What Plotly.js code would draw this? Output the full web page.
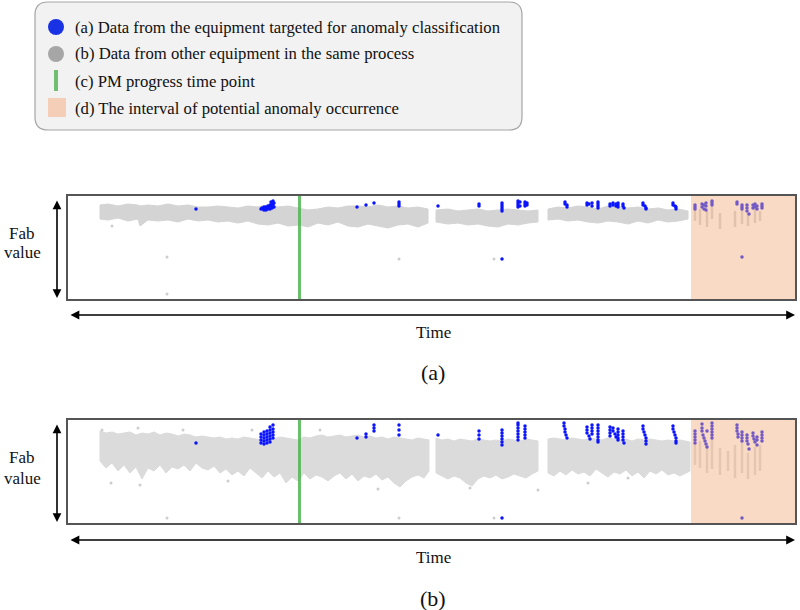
<!DOCTYPE html>
<html>
<head>
<meta charset="utf-8">
<script src="https://cdn.plot.ly/plotly-3.0.1.min.js"></script>
<style>html,body{margin:0;padding:0;background:#fff;}#chart{width:800px;height:610px;}</style>
</head>
<body>
<div id="chart"></div>
<script>
// ---------- DATA (time index 0..727, Fab value 0..103) ----------
const pmTime = 231.5;
const anomalyStart = 623;
const anomalyEnd = 727;

// Panel (a): band of other equipment (null = gap)
const aBandT  = [32,40,50,60,70,72,80,90,100,110,120,130,140,150,160,170,180,190,200,210,220,232,240,250,260,270,280,290,300,310,320,330,340,350,360,null,368,380,390,400,410,420,430,440,450,460,470,null,480,490,500,510,520,530,540,550,560,570,580,590,600,610,620];
const aBandHi = [94,95,93,95,94,93,94,93,95,93,94,92,92,93,92,91,93,92,94,92,93,91,89,90,92,91,93,93,92,94,92,93,91,92,90,null,89,90,88,89,90,88,89,90,89,88,89,null,90,92,91,93,92,90,93,92,91,92,90,91,89,90,88];
const aBandLo = [80,79,81,78,80,73,79,78,79,77,80,78,79,77,78,76,78,75,74,76,73,74,72,76,74,77,73,72,75,73,71,74,75,72,76,null,77,75,76,74,75,73,72,75,74,76,77,null,79,80,78,79,77,76,78,77,75,78,76,79,77,78,80];
const aStreakT  = [627,632,639,644,652,667,674,680,687,692];
const aStreakLo = [78,74,72,80,70,72,75,73,76,78];
const aStreakHi = [92,90,88,92,86,88,92,86,90,88];
const aGrayT = [44,99,99,331,426];
const aGrayY = [73,42,5,40,40];
const aBlueT = [193,194,195,196,197,198,199,200,201,202,203,204,205,206,196,198,200,202,204,206,203,205,
  128,289,298,306,331,331,331,370,411,411,434,434,434,434,434,450,450,450,450,452,452,457,457,457,459,459,434,
  497,497,499,499,519,519,521,524,524,530,530,530,530,542,542,545,545,548,548,550,550,550,555,555,556,
  575,575,577,578,578,605,605,607,608,608,
  627,627,627,634,634,636,636,638,638,638,644,644,644,669,669,674,674,674,679,679,679,681,685,685,687,687,689,689,694,694,694,674];
const aBlueY = [90,91,90,92,91,92,91,93,92,94,93,95,94,96,89,89,90,90,91,92,97,98,
  90,92,94,96,97,95,93,93,95,93,96,94,92,90,88,98,96,94,92,97,93,97,95,93,96,94,40,
  97,95,94,92,96,94,95,96,93,97,95,93,91,95,93,96,94,95,93,96,94,92,95,93,91,
  96,94,93,91,90,96,94,93,92,90,
  94,92,90,95,92,94,90,96,93,89,98,96,94,97,95,94,92,90,94,91,88,85,94,91,95,92,93,90,95,93,91,42];

// Panel (b)
const bBandT  = [32,38,44,50,56,62,68,74,80,86,92,98,104,110,116,122,128,134,140,146,152,158,164,170,176,182,188,194,200,206,212,218,224,230,236,242,248,254,260,266,272,278,284,290,296,302,308,314,320,326,332,338,344,350,356,361,null,368,374,380,386,392,398,404,410,416,422,428,434,440,446,452,458,464,470,null,480,486,492,498,504,510,516,522,528,534,540,546,552,558,564,570,576,582,588,594,600,606,612,618,622];
const bBandHi = [92,90,91,89,90,91,88,90,89,91,88,90,89,87,89,88,86,87,86,85,86,84,85,84,86,85,84,83,85,84,86,85,84,83,86,85,87,88,86,87,88,86,87,88,86,87,85,86,84,86,85,84,83,85,84,83,null,85,83,84,82,84,83,82,84,83,82,83,82,84,83,82,84,83,82,null,84,85,84,83,85,84,83,85,84,83,85,84,83,84,82,84,83,84,83,82,83,82,83,82,81];
const bBandLo = [62,55,60,52,58,50,56,44,55,52,58,50,56,54,58,52,60,55,53,57,50,54,48,52,47,55,50,45,52,46,50,40,46,42,50,44,48,46,42,47,50,44,49,42,47,45,49,43,46,40,36,42,46,48,45,52,null,50,47,44,47,45,40,37,44,47,45,48,44,46,49,47,45,49,52,null,50,47,52,48,53,49,51,47,54,50,46,51,49,53,47,51,45,52,49,53,48,50,47,50,52];
const bStreakT  = [627,632,639,644,652,660,667,674,680,687,692];
const bStreakLo = [58,55,50,54,48,52,45,50,44,48,52];
const bStreakHi = [80,82,78,84,75,72,78,82,70,76,78];
const bGrayT = [34,70,115,184,252,43,72,160,310,402,470,520,560,99,331,426];
const bGrayY = [93,95,93,93,93,40,38,42,34,35,33,40,45,5,5,5];
const bBlueT = [193,193,193,193,196,196,196,196,196,199,199,199,199,199,202,202,202,202,202,202,205,205,205,205,205,
  128,289,298,298,306,306,306,331,331,331,370,411,411,411,434,434,434,434,434,434,450,450,450,450,450,450,450,457,457,457,457,457,434,
  496,496,497,497,498,499,519,519,519,521,524,524,524,524,522,530,530,530,530,530,530,530,
  542,542,542,542,545,545,547,548,550,550,550,550,550,555,555,555,555,556,
  575,575,576,577,578,578,578,605,605,606,607,608,608,608,
  627,627,627,627,627,634,634,634,635,636,637,638,639,639,644,644,644,644,644,644,669,669,669,670,670,674,674,674,674,679,679,679,680,681,685,685,686,687,689,689,689,694,694,694,694,674];
const bBlueY = [80,83,86,89,79,82,85,88,91,80,83,86,89,92,81,84,87,90,93,96,85,88,91,94,98,
  80,85,86,89,92,95,98,88,93,98,88,84,88,92,78,81,84,87,90,93,83,86,89,92,95,98,100,85,88,91,94,97,5,
  100,97,94,91,88,85,96,93,90,87,98,95,92,89,84,98,95,92,89,86,83,81,
  96,93,90,87,95,92,89,86,94,91,88,85,83,92,89,86,83,80,
  97,94,91,88,85,82,79,97,94,91,88,85,82,80,
  92,89,86,83,80,99,95,92,88,85,82,79,76,92,100,97,94,91,88,85,98,95,92,89,86,91,88,85,82,88,85,82,79,74,90,87,84,81,86,83,78,91,88,85,82,5];

// ---------- helpers ----------
const W = 800, H = 610;
const PX = x => x / W;
const PY = y => 1 - y / H;

function bandPolygon(T, Hi, Lo) {
  const xs = [], ys = [];
  let run = [];
  const flush = () => {
    if (!run.length) return;
    run.forEach(i => { xs.push(T[i]); ys.push(Hi[i]); });
    run.slice().reverse().forEach(i => { xs.push(T[i]); ys.push(Lo[i]); });
    xs.push(T[run[0]]); ys.push(Hi[run[0]]);
    xs.push(null); ys.push(null);
    run = [];
  };
  T.forEach((t, i) => { if (t === null) flush(); else run.push(i); });
  flush();
  return {xs, ys};
}
function segments(T, Lo, Hi) {
  const xs = [], ys = [];
  T.forEach((t, i) => { xs.push(t, t, null); ys.push(Lo[i], Hi[i], null); });
  return {xs, ys};
}

const BLUE = 'rgb(10,20,255)';

function panelTraces(T, Hi, Lo, sT, sLo, sHi, gT, gY, blT, blY, xa, ya, gray, bsize) {
  const poly = bandPolygon(T, Hi, Lo);
  const seg = segments(sT, sLo, sHi);
  return [
    {type: 'scatter', mode: 'lines', x: poly.xs, y: poly.ys, fill: 'toself', fillcolor: gray,
     line: {color: gray, width: 1}, xaxis: xa, yaxis: ya, hoverinfo: 'skip'},
    {type: 'scatter', mode: 'lines', x: seg.xs, y: seg.ys, line: {color: gray, width: 2.5},
     xaxis: xa, yaxis: ya, hoverinfo: 'skip'},
    {type: 'scatter', mode: 'markers', x: gT, y: gY, marker: {color: 'rgb(205,205,205)', size: 3},
     xaxis: xa, yaxis: ya},
    {type: 'scatter', mode: 'markers', x: blT, y: blY, marker: {color: BLUE, size: bsize},
     xaxis: xa, yaxis: ya}
  ];
}

const traces = [
  ...panelTraces(aBandT, aBandHi, aBandLo, aStreakT, aStreakLo, aStreakHi, aGrayT, aGrayY, aBlueT, aBlueY, 'x', 'y', 'rgb(212,212,212)', 3.5),
  ...panelTraces(bBandT, bBandHi, bBandLo, bStreakT, bStreakLo, bStreakHi, bGrayT, bGrayY, bBlueT, bBlueY, 'x2', 'y2', 'rgb(219,219,219)', 3.5)
];

const axisBase = {showgrid: false, zeroline: false, showticklabels: false, ticks: '',
  showline: true, mirror: true, linecolor: '#555', linewidth: 2, fixedrange: true};

function roundRect(x0, y0, x1, y1, r) {
  const p = (x, y) => PX(x) + ',' + PY(y);
  return 'M' + p(x0 + r, y0) + ' L' + p(x1 - r, y0) + ' Q' + p(x1, y0) + ' ' + p(x1, y0 + r) +
    ' L' + p(x1, y1 - r) + ' Q' + p(x1, y1) + ' ' + p(x1 - r, y1) +
    ' L' + p(x0 + r, y1) + ' Q' + p(x0, y1) + ' ' + p(x0, y1 - r) +
    ' L' + p(x0, y0 + r) + ' Q' + p(x0, y0) + ' ' + p(x0 + r, y0) + ' Z';
}

const shapes = [
  {type: 'path', xref: 'paper', yref: 'paper', path: roundRect(35, 2, 522, 130, 13),
   fillcolor: 'rgb(242,242,242)', line: {color: 'rgb(165,165,165)', width: 1.2}},
  {type: 'circle', xref: 'paper', yref: 'paper', x0: PX(48), x1: PX(64), y0: PY(35), y1: PY(19),
   fillcolor: 'rgb(25,50,228)', line: {width: 0}},
  {type: 'circle', xref: 'paper', yref: 'paper', x0: PX(48), x1: PX(64), y0: PY(62), y1: PY(46),
   fillcolor: 'rgb(166,166,166)', line: {width: 0}},
  {type: 'rect', xref: 'paper', yref: 'paper', x0: PX(54), x1: PX(58), y0: PY(91), y1: PY(70),
   fillcolor: 'rgb(112,190,112)', line: {width: 0}},
  {type: 'rect', xref: 'paper', yref: 'paper', x0: PX(48), x1: PX(66), y0: PY(117), y1: PY(98),
   fillcolor: 'rgb(245,206,183)', line: {width: 0}}
];
[['x', 'y'], ['x2', 'y2']].forEach(([xa, ya]) => {
  shapes.push({type: 'line', xref: xa, yref: ya + ' domain', x0: pmTime, x1: pmTime, y0: 0, y1: 1,
    layer: 'above', line: {color: 'rgba(80,180,80,0.85)', width: 3}});
  shapes.push({type: 'rect', xref: xa, yref: ya + ' domain', x0: anomalyStart, x1: anomalyEnd, y0: 0, y1: 1,
    layer: 'above', fillcolor: 'rgb(242,172,124)', opacity: 0.45, line: {width: 0}});
});

const legendTexts = [
  ['(a) Data from the equipment targeted for anomaly classification', 27],
  ['(b) Data from other equipment in the same process', 53],
  ['(c) PM progress time point', 81],
  ['(d) The interval of potential anomaly occurrence', 108]
];
const annotations = legendTexts.map(([t, y]) => ({
  xref: 'paper', yref: 'paper', x: PX(73), y: PY(y), xanchor: 'left', yanchor: 'middle',
  text: t, showarrow: false, font: {family: 'Liberation Serif', size: 16.7, color: '#111'}
}));

function arrow(xTail, yTail, xHead, yHead) {
  return {xref: 'paper', yref: 'paper', x: PX(xHead), y: PY(yHead), ax: xTail - xHead, ay: yTail - yHead,
    axref: 'pixel', ayref: 'pixel', text: '', showarrow: true, arrowside: 'end+start',
    arrowhead: 2, arrowsize: 1.1, arrowwidth: 1.6, arrowcolor: '#000'};
}
function label(text, x, y, size) {
  return {xref: 'paper', yref: 'paper', x: PX(x), y: PY(y), xanchor: 'center', yanchor: 'middle',
    text: text, showarrow: false, font: {family: 'Liberation Serif', size: size, color: '#111'}};
}
annotations.push(
  arrow(57, 199, 57, 298), arrow(69, 315, 795, 315),
  label('Fab', 22, 233, 17), label('value', 22, 253, 17),
  label('Time', 433, 332, 17), label('(a)', 433, 372, 22),
  arrow(57, 423, 57, 522), arrow(69, 540, 795, 540),
  label('Fab', 22, 457, 17), label('value', 22, 478, 17),
  label('Time', 433, 557, 17), label('(b)', 433, 598, 22)
);

const layout = {
  width: W, height: H, margin: {l: 0, r: 0, t: 0, b: 0},
  paper_bgcolor: '#fff', plot_bgcolor: '#fff', showlegend: false,
  xaxis: {...axisBase, domain: [PX(68), PX(795)], range: [0, 727], anchor: 'y'},
  yaxis: {...axisBase, domain: [PY(299), PY(196)], range: [0, 103], anchor: 'x'},
  xaxis2: {...axisBase, domain: [PX(68), PX(795)], range: [0, 727], anchor: 'y2'},
  yaxis2: {...axisBase, domain: [PY(523), PY(420)], range: [0, 103], anchor: 'x2'},
  shapes: shapes, annotations: annotations
};

Plotly.newPlot('chart', traces, layout, {displayModeBar: false});
</script>
</body>
</html>
